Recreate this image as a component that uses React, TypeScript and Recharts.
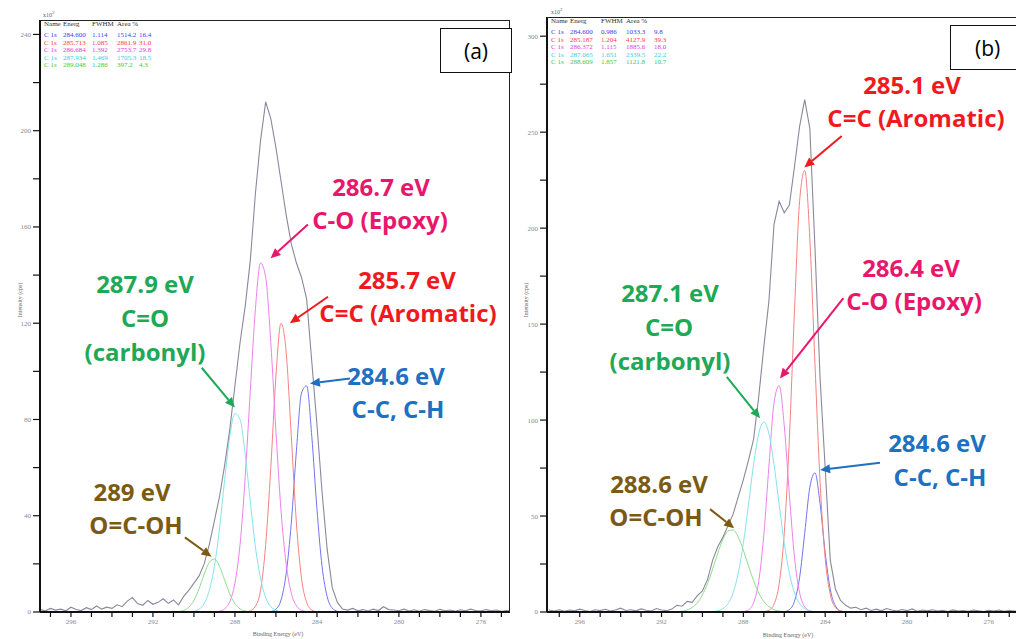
import React from 'react';
import { LineChart, Line, XAxis, YAxis, ReferenceLine } from 'recharts';

// binding energy grid of the scan (eV), high to low
const scanEnergy = [
  297.5, 297.25, 297, 296.75, 296.5, 296.25, 296, 295.75, 295.5, 295.25,
  295, 294.75, 294.5, 294.25, 294, 293.75, 293.5, 293.25, 293, 292.75,
  292.5, 292.25, 292, 291.75, 291.5, 291.25, 291, 290.75, 290.5, 290.25,
  290, 289.75, 289.5, 289.25, 289, 288.75, 288.5, 288.25, 288, 287.75,
  287.5, 287.25, 287, 286.75, 286.5, 286.25, 286, 285.75, 285.5, 285.25,
  285, 284.75, 284.5, 284.25, 284, 283.75, 283.5, 283.25, 283, 282.75,
  282.5, 282.25, 282, 281.75, 281.5, 281.25, 281, 280.75, 280.5, 280.25,
  280, 279.75, 279.5, 279.25, 279, 278.75, 278.5, 278.25, 278, 277.75,
  277.5, 277.25, 277, 276.75, 276.5, 276.25, 276, 275.75, 275.5, 275.25,
  275, 274.75, 274.5,
];

// window where the fitted components are drawn
const peakEnergy = [
  291.5, 291.25, 291, 290.75, 290.5, 290.25, 290, 289.75, 289.5, 289.25,
  289, 288.75, 288.5, 288.25, 288, 287.75, 287.5, 287.25, 287, 286.75,
  286.5, 286.25, 286, 285.75, 285.5, 285.25, 285, 284.75, 284.5, 284.25,
  284, 283.75, 283.5, 283.25, 283, 282.75, 282.5,
];

// ---- panel (a), intensity in x10^2 cps ----
const envelopeA = [
  1, 0.5, 1.5, 0.8, 1.2, 0.5, 2, 1, 0.6, 1.8,
  1, 2.5, 1.2, 2, 1.5, 3, 2.2, 4.5, 6, 3.5,
  2.8, 4.8, 3.2, 4, 5.5, 3.6, 5, 3, 6.5, 9,
  12, 15, 20, 28, 38, 48, 61, 76, 94, 112,
  127, 146, 174, 196, 212, 205, 193, 179, 165, 153,
  145, 139, 130, 104, 78, 50, 26, 10, 4, 1.2,
  0.8, 1.5, 0.5, 1, 0.4, 1.2, 0.6, 2.2, 1, 0.8,
  0.5, 1.2, 0.4, 0.9, 0.3, 1, 0.6, 0.3, 1.1, 0.5,
  0.8, 0.3, 0.9, 0.5, 1.2, 0.6, 0.4, 1, 0.5, 0.8,
  0.3, 0.6, 0.4,
];
const ccA = [
  0, 0, 0, 0, 0, 0, 0, 0, 0, 0,
  0, 0, 0, 0, 0, 0, 0, 0, 0, 0,
  0, 0.2, 1.2, 5, 16, 37, 67, 91, 94, 73,
  43, 19, 6.4, 1.6, 0.3, 0, 0,
];
const aromaticA = [
  0, 0, 0, 0, 0, 0, 0, 0, 0, 0,
  0, 0, 0, 0, 0, 0, 0, 0.5, 2.4, 9,
  28, 60, 98, 120, 108, 73, 37, 14, 4, 0.8,
  0.1, 0, 0, 0, 0, 0, 0,
];
const epoxyA = [
  0, 0, 0, 0, 0, 0, 0, 0, 0, 0,
  0, 0.3, 1.3, 4.3, 12, 28, 56, 92, 126, 145,
  139, 112, 75, 42, 20, 7.8, 2.6, 0.7, 0.2, 0,
  0, 0, 0, 0, 0, 0, 0,
];
const carbonylA = [
  0, 0, 0, 0, 0, 0.1, 0.3, 1.2, 3.5, 9,
  19, 35, 55, 73, 82.5, 80, 65.5, 46, 27, 14,
  6, 2.2, 0.7, 0.2, 0.1, 0, 0, 0, 0, 0,
  0, 0, 0, 0, 0, 0, 0,
];
const carboxylA = [
  0, 0, 0, 0.2, 0.6, 2, 4.8, 9.7, 15.7, 20.6,
  22, 18.9, 13.2, 7.5, 3.5, 1.3, 0.4, 0.1, 0, 0,
  0, 0, 0, 0, 0, 0, 0, 0, 0, 0,
  0, 0, 0, 0, 0, 0, 0,
];

// ---- panel (b) ----
const envelopeB = [
  1, 0.5, 1.2, 0.4, 1, 0.6, 1.5, 0.8, 0.3, 1.2,
  0.7, 1.4, 0.5, 1, 2, 0.8, 1.2, 0.6, 1.6, 0.9,
  0.5, 1.8, 1, 0.7, 1.5, 3.5, 3, 5.5, 5, 8.5,
  11, 17, 27, 34, 39, 45, 51, 60, 69, 79,
  90, 112, 138, 162, 202, 214, 208, 212, 232, 253,
  267, 252, 190, 122, 75, 27, 12, 6, 3.5, 2,
  2.5, 1.2, 2, 0.8, 1.5, 0.6, 1.8, 1, 0.5, 1.3,
  0.7, 1.6, 0.4, 1, 0.6, 1.2, 0.5, 0.9, 0.3, 1.1,
  0.5, 0.8, 0.4, 1, 0.6, 0.3, 0.9, 0.5, 1, 0.4,
  0.7, 0.5, 0.6,
];
const ccB = [
  0, 0, 0, 0, 0, 0, 0, 0, 0, 0,
  0, 0, 0, 0, 0, 0, 0, 0, 0, 0,
  0, 0, 0.2, 1.2, 5.6, 18, 41, 65, 72.5, 56.5,
  31, 11.8, 3.2, 0.6, 0.1, 0, 0,
];
const aromaticB = [
  0, 0, 0, 0, 0, 0, 0, 0, 0, 0,
  0, 0, 0, 0, 0, 0, 0, 0, 0.2, 0.9,
  4.1, 14.7, 41, 90.5, 157, 214, 230, 194.5, 129.6, 68,
  28, 9.1, 2.3, 0.5, 0.1, 0, 0,
];
const epoxyB = [
  0, 0, 0, 0, 0, 0, 0, 0, 0, 0,
  0, 0, 0, 0, 0.2, 1.1, 4.8, 15.9, 40, 76,
  109, 118, 97, 61, 28.5, 10.1, 2.7, 0.6, 0.1, 0,
  0, 0, 0, 0, 0, 0, 0,
];
const carbonylB = [
  0, 0, 0, 0, 0, 0, 0, 0, 0.2, 0.6,
  1.7, 4.4, 10, 20.2, 35.8, 55.9, 76.8, 92.9, 99, 92.9,
  76.8, 55.9, 35.8, 20.2, 10, 4.4, 1.7, 0.6, 0.2, 0,
  0, 0, 0, 0, 0, 0, 0,
];
const carboxylB = [
  0, 0.15, 0.4, 1.1, 2.4, 4.8, 8.9, 14.9, 22.4, 30.6,
  37.8, 42.2, 42.7, 39, 32.2, 24.1, 16.3, 9.9, 5.5, 2.8,
  1.2, 0.5, 0.2, 0, 0, 0, 0, 0, 0, 0,
  0, 0, 0, 0, 0, 0, 0,
];

// fit tables printed in the corner of each plot
const fitHeader = ['Name', 'Energ', 'FWHM', 'Area', '%'];
const fitA = [
  ['C 1s', '284.600', '1.114', '1514.2', '16.4'],
  ['C 1s', '285.713', '1.085', '2861.9', '31.0'],
  ['C 1s', '286.684', '1.392', '2753.7', '29.8'],
  ['C 1s', '287.934', '1.469', '1705.3', '18.5'],
  ['C 1s', '289.048', '1.286', '397.2', '4.3'],
];
const fitB = [
  ['C 1s', '284.600', '0.986', '1033.3', '9.8'],
  ['C 1s', '285.187', '1.204', '4127.9', '39.3'],
  ['C 1s', '286.372', '1.115', '1885.6', '18.0'],
  ['C 1s', '287.065', '1.651', '2339.5', '22.2'],
  ['C 1s', '288.609', '1.857', '1121.8', '10.7'],
];

const xTicks = [275, 276, 277, 278, 279, 280, 281, 282, 283, 284, 285, 286, 287, 288, 289, 290, 291, 292, 293, 294, 295, 296, 297];
const yTicksA = [0, 20, 40, 60, 80, 100, 120, 140, 160, 180, 200, 220, 240];
const yTicksB = [0, 25, 50, 75, 100, 125, 150, 175, 200, 225, 250, 275, 300];

// arrows: [tailE, tailI, tipE, tipI]
const arrowsA = [
  { seg: [284.44, 161, 286.26, 147], c: 'pink' },
  { seg: [283.46, 131, 285.32, 120], c: 'red' },
  { seg: [289.62, 101.5, 288.0, 85], c: 'green' },
  { seg: [282.39, 97, 284.34, 95], c: 'blue' },
  { seg: [290.44, 31, 289.14, 23], c: 'olive' },
];
const arrowsB = [
  { seg: [283.19, 248, 285.02, 231.6], c: 'red' },
  { seg: [283.11, 163.5, 286.21, 121.7], c: 'pink' },
  { seg: [288.81, 122.5, 287.18, 100.9], c: 'green' },
  { seg: [281.32, 77.8, 284.25, 74], c: 'blue' },
  { seg: [289.63, 53.6, 288.45, 43.6], c: 'olive' },
];

const NOTE: Record<string, string> = {
  pink: '#e8176c',
  red: '#f01a1e',
  green: '#1fa855',
  blue: '#1e70c0',
  olive: '#7b5b12',
};

const SERIES = [
  { key: 'cc', stroke: '#7373f2', text: '#3a3aff' },
  { key: 'aromatic', stroke: '#f58282', text: '#ff3a3a' },
  { key: 'epoxy', stroke: '#ee80ee', text: '#dd3cdd' },
  { key: 'carbonyl', stroke: '#84e4ee', text: '#2fd0dc' },
  { key: 'carboxyl', stroke: '#8fdc8f', text: '#3cc83c' },
];

const buildRows = (env: number[], comps: Record<string, number[]>) =>
  scanEnergy.map((e, i) => {
    const row: any = { e, env: env[i] };
    const j = peakEnergy.indexOf(e);
    if (j >= 0) Object.keys(comps).forEach((k) => { row[k] = comps[k][j]; });
    return row;
  });

const rowsA = buildRows(envelopeA, { cc: ccA, aromatic: aromaticA, epoxy: epoxyA, carbonyl: carbonylA, carboxyl: carboxylA });
const rowsB = buildRows(envelopeB, { cc: ccB, aromatic: aromaticB, epoxy: epoxyB, carbonyl: carbonylB, carboxyl: carboxylB });

const arrowShape = (color: string) => (p: any) => {
  const { x1, y1, x2, y2 } = p;
  if ([x1, y1, x2, y2].some((v) => typeof v !== 'number' || isNaN(v))) return <g />;
  const a = Math.atan2(y2 - y1, x2 - x1);
  const L = 10;
  const W = 4.5;
  const bx = x2 - L * Math.cos(a);
  const by = y2 - L * Math.sin(a);
  const pts = `${x2},${y2} ${bx + W * Math.sin(a)},${by - W * Math.cos(a)} ${bx - W * Math.sin(a)},${by + W * Math.cos(a)}`;
  return (
    <g>
      <line x1={x1} y1={y1} x2={bx} y2={by} stroke={color} strokeWidth={2} />
      <polygon points={pts} fill={color} />
    </g>
  );
};

const tickFont = { fontSize: 7, fill: '#8a8a8a', fontFamily: 'Liberation Serif' };

const Panel = ({ left, width, top, right, rows, xDomain, yDomain, yTicks, yStep, arrows }: any) => (
  <div style={{ position: 'absolute', left, top: 0 }}>
    <LineChart width={width} height={639} data={rows} margin={{ top, right, bottom: 0, left: 0 }}>
      <XAxis
        dataKey="e"
        type="number"
        domain={xDomain}
        reversed
        allowDataOverflow
        ticks={xTicks}
        interval={0}
        height={27}
        tickSize={5}
        tickFormatter={(v: number) => (v % 4 === 0 ? String(v) : '')}
        axisLine={{ stroke: '#111', strokeWidth: 2 }}
        tickLine={{ stroke: '#111', strokeWidth: 1.2 }}
        tick={tickFont}
      />
      <YAxis
        type="number"
        domain={yDomain}
        allowDataOverflow
        ticks={yTicks}
        interval={0}
        width={40}
        tickSize={7}
        tickFormatter={(v: number) => (v % yStep === 0 ? String(v) : '')}
        axisLine={{ stroke: '#111', strokeWidth: 2 }}
        tickLine={{ stroke: '#111', strokeWidth: 1.2 }}
        tick={tickFont}
      />
      {SERIES.map((s) => (
        <Line key={s.key} dataKey={s.key} type="monotone" stroke={s.stroke} strokeWidth={1} dot={false} isAnimationActive={false} />
      ))}
      <Line dataKey="env" type="linear" stroke="#8d879b" strokeWidth={1.1} dot={false} isAnimationActive={false} />
      {arrows.map((a: any, i: number) => (
        <ReferenceLine
          key={i}
          segment={[{ x: a.seg[0], y: a.seg[1] }, { x: a.seg[2], y: a.seg[3] }]}
          shape={arrowShape(NOTE[a.c])}
        />
      ))}
    </LineChart>
  </div>
);

const notesA = [
  { t: '286.7 eV', x: 381, y: 187, c: 'pink' },
  { t: 'C-O (Epoxy)', x: 380, y: 220, c: 'pink' },
  { t: '285.7 eV', x: 407, y: 280, c: 'red' },
  { t: 'C=C (Aromatic)', x: 408, y: 313, c: 'red' },
  { t: '287.9 eV', x: 145, y: 284, c: 'green' },
  { t: 'C=O', x: 145, y: 318, c: 'green' },
  { t: '(carbonyl)', x: 145, y: 352, c: 'green' },
  { t: '284.6 eV', x: 396, y: 376, c: 'blue' },
  { t: 'C-C, C-H', x: 398, y: 409, c: 'blue' },
  { t: '289 eV', x: 132, y: 492, c: 'olive' },
  { t: 'O=C-OH', x: 136, y: 525, c: 'olive' },
];
const notesB = [
  { t: '285.1 eV', x: 912, y: 85, c: 'red' },
  { t: 'C=C (Aromatic)', x: 916, y: 118, c: 'red' },
  { t: '286.4 eV', x: 911, y: 268, c: 'pink' },
  { t: 'C-O (Epoxy)', x: 914, y: 301, c: 'pink' },
  { t: '287.1 eV', x: 670, y: 293, c: 'green' },
  { t: 'C=O', x: 669, y: 327, c: 'green' },
  { t: '(carbonyl)', x: 670, y: 361, c: 'green' },
  { t: '284.6 eV', x: 937, y: 443, c: 'blue' },
  { t: 'C-C, C-H', x: 940, y: 477, c: 'blue' },
  { t: '288.6 eV', x: 659, y: 484, c: 'olive' },
  { t: 'O=C-OH', x: 656, y: 517, c: 'olive' },
];

const abs = (x: number, y: number, extra: any = {}) => ({ position: 'absolute' as const, left: x, top: y, ...extra });

const FitTable = ({ x, y, cols, rows }: { x: number; y: number; cols: number[]; rows: string[][] }) => (
  <div style={abs(x, y, { fontFamily: 'Liberation Serif', fontSize: 7, lineHeight: '7.5px' })}>
    {[fitHeader, ...rows].map((r, i) => (
      <div key={i} style={{ position: 'relative', height: i === 0 ? 11 : 7.5, color: i === 0 ? '#333' : SERIES[i - 1].text }}>
        {(i === 0 ? [r[0], r[1], r[2], `${r[3]} ${r[4]}`] : r).map((c, k) => (
          <span key={k} style={{ position: 'absolute', left: cols[k], top: 0, whiteSpace: 'nowrap' }}>{c}</span>
        ))}
      </div>
    ))}
  </div>
);

const Note = ({ t, x, y, c }: any) => (
  <div
    style={abs(x, y, {
      transform: 'translate(-50%, -50%)',
      whiteSpace: 'nowrap',
      fontFamily: '"Open Sans", sans-serif',
      fontWeight: 700,
      fontSize: 24,
      lineHeight: 1,
      color: NOTE[c],
    })}
  >
    {t}
  </div>
);

const small = { fontFamily: 'Liberation Serif', fontSize: 6, color: '#666', whiteSpace: 'nowrap' as const };

export default function App() {
  return (
    <div style={{ position: 'absolute', left: 0, top: 0, width: 1016, height: 639, background: '#fff', overflow: 'hidden' }}>
      <Panel left={0} width={512} top={20} right={2} rows={rowsA} xDomain={[274.58, 297.51]} yDomain={[0, 246]} yTicks={yTicksA} yStep={40} arrows={arrowsA} />
      <Panel left={507} width={509} top={17} right={0} rows={rowsB} xDomain={[274.67, 297.6]} yDomain={[0, 310]} yTicks={yTicksB} yStep={50} arrows={arrowsB} />

      {/* plot frames */}
      <div style={abs(40, 20, { width: 470, height: 592, borderTop: '1.5px solid #222', borderRight: '1px solid #222', boxSizing: 'border-box' })} />
      <div style={abs(547, 17, { width: 480, height: 1, borderTop: '1.5px solid #222' })} />

      {/* multipliers and axis titles */}
      <div style={abs(43, 10, small)}>x10<sup style={{ fontSize: 5 }}>2</sup></div>
      <div style={abs(551, 7, small)}>x10<sup style={{ fontSize: 5 }}>2</sup></div>
      <div style={abs(20, 300, { ...small, transform: 'translate(-50%, -50%) rotate(-90deg)' })}>Intensity (cps)</div>
      <div style={abs(526, 300, { ...small, transform: 'translate(-50%, -50%) rotate(-90deg)' })}>Intensity (cps)</div>
      <div style={abs(278, 634, { ...small, transform: 'translate(-50%, -50%)' })}>Binding Energy (eV)</div>
      <div style={abs(788, 635, { ...small, transform: 'translate(-50%, -50%)' })}>Binding Energy (eV)</div>

      <FitTable x={44} y={21} cols={[0, 19, 48, 73, 95]} rows={fitA} />
      <FitTable x={551} y={18} cols={[0, 19, 50, 75, 103]} rows={fitB} />

      {notesA.map((n, i) => <Note key={`a${i}`} {...n} />)}
      {notesB.map((n, i) => <Note key={`b${i}`} {...n} />)}

      {/* panel tags */}
      <div style={abs(440, 28, { width: 72, height: 45, border: '1.5px solid #111', boxSizing: 'border-box', background: '#fff', display: 'flex', alignItems: 'center', justifyContent: 'center', fontFamily: '"Open Sans", sans-serif', fontSize: 21 })}>(a)</div>
      <div style={abs(950, 25, { width: 80, height: 45, border: '1.5px solid #111', boxSizing: 'border-box', background: '#fff', display: 'flex', alignItems: 'center', paddingLeft: 24, fontFamily: '"Open Sans", sans-serif', fontSize: 21 })}>(b)</div>
    </div>
  );
}
